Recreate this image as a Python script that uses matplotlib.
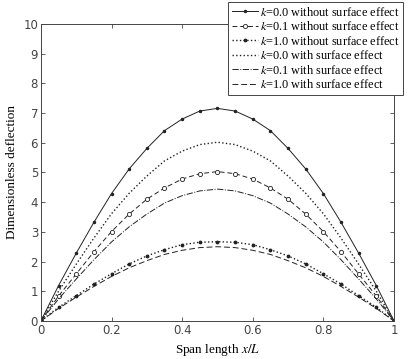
import numpy as np
from matplotlib import pyplot as plt

plt.rcParams['mathtext.fontset'] = 'stix'

# Posiciones a lo largo del claro
x = np.linspace(0, 1, 21)

# Mitad izquierda de cada curva (x = 0 ... 0.5), se completa por simetria
k00_sin = [0, 1.19, 2.28, 3.32, 4.29, 5.12, 5.81, 6.41, 6.80, 7.07, 7.16]
k01_sin = [0, 0.84, 1.58, 2.33, 3.01, 3.60, 4.10, 4.48, 4.78, 4.96, 5.03]
k10_sin = [0, 0.46, 0.85, 1.24, 1.59, 1.92, 2.19, 2.40, 2.57, 2.65, 2.67]
k00_con = [0, 1.00, 1.91, 2.79, 3.61, 4.30, 4.88, 5.39, 5.72, 5.94, 6.02]
k01_con = [0, 0.74, 1.41, 2.06, 2.66, 3.17, 3.60, 3.97, 4.22, 4.38, 4.44]
k10_con = [0, 0.42, 0.80, 1.16, 1.50, 1.79, 2.03, 2.24, 2.38, 2.47, 2.50]

def completa(mitad):
    return np.array(mitad + mitad[-2::-1])

fig = plt.figure(figsize=(4.13, 3.59), dpi=100)
ax = fig.add_axes([0.099, 0.106, 0.855, 0.827])

c = '#222222'
ax.plot(x, completa(k00_sin), '-', color=c, lw=0.7, marker='.', ms=3,
        label='$k$=0.0 without surface effect')
ax.plot(x, completa(k01_sin), color=c, lw=0.7, ls=(0, (5, 3)), marker='o',
        ms=3, mfc='white', mew=0.6, label='$k$=0.1 without surface effect')
ax.plot(x, completa(k10_sin), ':', color=c, lw=1.0, marker='.', ms=3.5,
        label='$k$=1.0 without surface effect')
ax.plot(x, completa(k00_con), ':', color=c, lw=1.0,
        label='$k$=0.0 with surface effect')
ax.plot(x, completa(k01_con), '-.', color=c, lw=0.7,
        label='$k$=0.1 with surface effect')
ax.plot(x, completa(k10_con), color=c, lw=0.7, ls=(0, (6, 3)),
        label='$k$=1.0 with surface effect')

ax.set_xlim(0, 1)
ax.set_ylim(0, 10)
ax.set_xticks([0, 0.2, 0.4, 0.6, 0.8, 1])
ax.set_xticklabels(['0', '0.2', '0.4', '0.6', '0.8', '1'])
ax.set_yticks(range(0, 11))
ax.tick_params(direction='in', top=True, right=True, length=3, width=0.6,
               labelsize=8.5, colors='#444444', pad=2)
for lab in ax.get_xticklabels() + ax.get_yticklabels():
    lab.set_fontfamily('DejaVu Sans')
    lab.set_color('#444444')
for s in ax.spines.values():
    s.set_linewidth(0.7)
    s.set_color('#444444')

ax.set_xlabel('Span length $x/L$', fontfamily='Liberation Serif', fontsize=9.5)
ax.set_ylabel('Dimensionless deflection', fontfamily='Liberation Serif',
              fontsize=9.5)

leg = ax.legend(loc='upper right', bbox_to_anchor=(1.025, 1.074),
                borderaxespad=0, fancybox=False, edgecolor='#444444',
                framealpha=1, handlelength=2.2, handletextpad=0.1,
                labelspacing=0.12, borderpad=0.3,
                prop={'family': 'Liberation Serif', 'size': 8.8})
leg.get_frame().set_linewidth(0.7)

fig.savefig('out.png', dpi=100)
